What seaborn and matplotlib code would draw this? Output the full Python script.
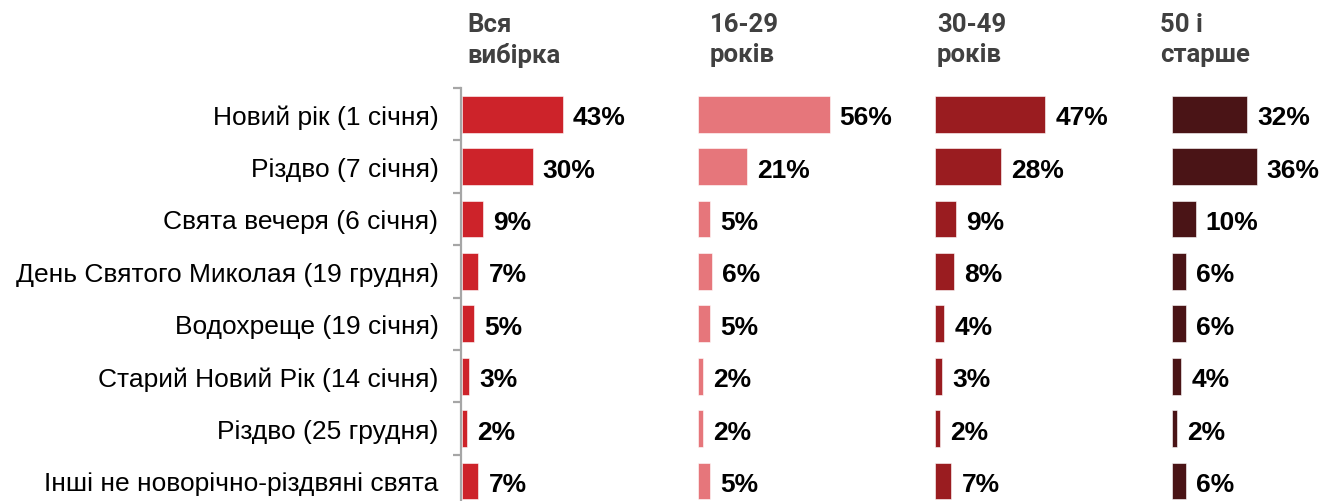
import matplotlib
matplotlib.use("Agg")
import matplotlib.pyplot as plt
import seaborn as sns
import pandas as pd
import numpy as np

categories = [
    "Новий рік (1 січня)",
    "Різдво (7 січня)",
    "Свята вечеря (6 січня)",
    "День Святого Миколая (19 грудня)",
    "Водохреще (19 січня)",
    "Старий Новий Рік (14 січня)",
    "Різдво (25 грудня)",
    "Інші не новорічно-різдвяні свята",
]
panel_titles = ["Вся\nвибірка", "16-29\nроків", "30-49\nроків", "50 і\nстарше"]
all_sample = [43, 30, 9, 7, 5, 3, 2, 7]
age_16_29 = [56, 21, 5, 6, 5, 2, 2, 5]
age_30_49 = [47, 28, 9, 8, 4, 3, 2, 7]
age_50_plus = [32, 36, 10, 6, 6, 4, 2, 6]

series = [all_sample, age_16_29, age_30_49, age_50_plus]
colors = ["#CD232A", "#E6767B", "#9A1C20", "#4A1416"]

sns.set_theme(style="white")
plt.rcParams["font.family"] = ["Liberation Sans", "DejaVu Sans"]

W, H = 1325, 502
fig = plt.figure(figsize=(W / 100, H / 100), dpi=100)

px_per_pct = 2.35
ax_w_px = 200
bar_starts = [462, 698, 935, 1172]
title_x = [467, 710, 937, 1160]
top_px = 89
row_h = 52.4
bottom_px = top_px + 8 * row_h

for i, (vals, col) in enumerate(zip(series, colors)):
    left = bar_starts[i] / W
    ax = fig.add_axes([left, 1 - bottom_px / H, ax_w_px / W, (bottom_px - top_px) / H])
    df = pd.DataFrame({"cat": categories, "val": vals})
    sns.barplot(data=df, y="cat", x="val", order=categories, color=col,
                orient="h", width=0.7, saturation=1, ax=ax,
                edgecolor="white", linewidth=0.4)
    ax.set_xlim(0, ax_w_px / px_per_pct)
    ax.set_ylim(7.5, -0.5)
    ax.set_xlabel("")
    ax.set_ylabel("")
    ax.set_xticks([])
    for s in ["top", "right", "bottom"]:
        ax.spines[s].set_visible(False)
    if i == 0:
        ax.spines["left"].set_visible(True)
        ax.spines["left"].set_color("#A6A6A6")
        ax.spines["left"].set_linewidth(1.6)
        ax.spines["left"].set_position(("outward", 1))
        ax.set_yticks(range(len(categories)))
        ax.set_yticklabels(categories, fontsize=19, color="black")
        ax.set_yticks(np.arange(-0.5, 8.0, 1.0), minor=True)
        ax.tick_params(axis="y", which="major", length=0, pad=16)
        ax.tick_params(axis="y", which="minor", length=6, width=1.6,
                       color="#A6A6A6", left=True)
    else:
        ax.spines["left"].set_visible(False)
        ax.set_yticks([])
    for j, v in enumerate(vals):
        ax.annotate(f"{v}%", xy=(v, j), xytext=(10, -3), textcoords="offset pixels",
                    ha="left", va="center", fontsize=19, fontweight="bold",
                    color="black")
    fig.text(title_x[i] / W, 1 - 13 / H, panel_titles[i], ha="left", va="top",
             fontsize=18.5, fontweight="bold", color="#404040",
             family=["Roboto", "DejaVu Sans"], linespacing=1.3)

fig.savefig("out.png", dpi=100)
